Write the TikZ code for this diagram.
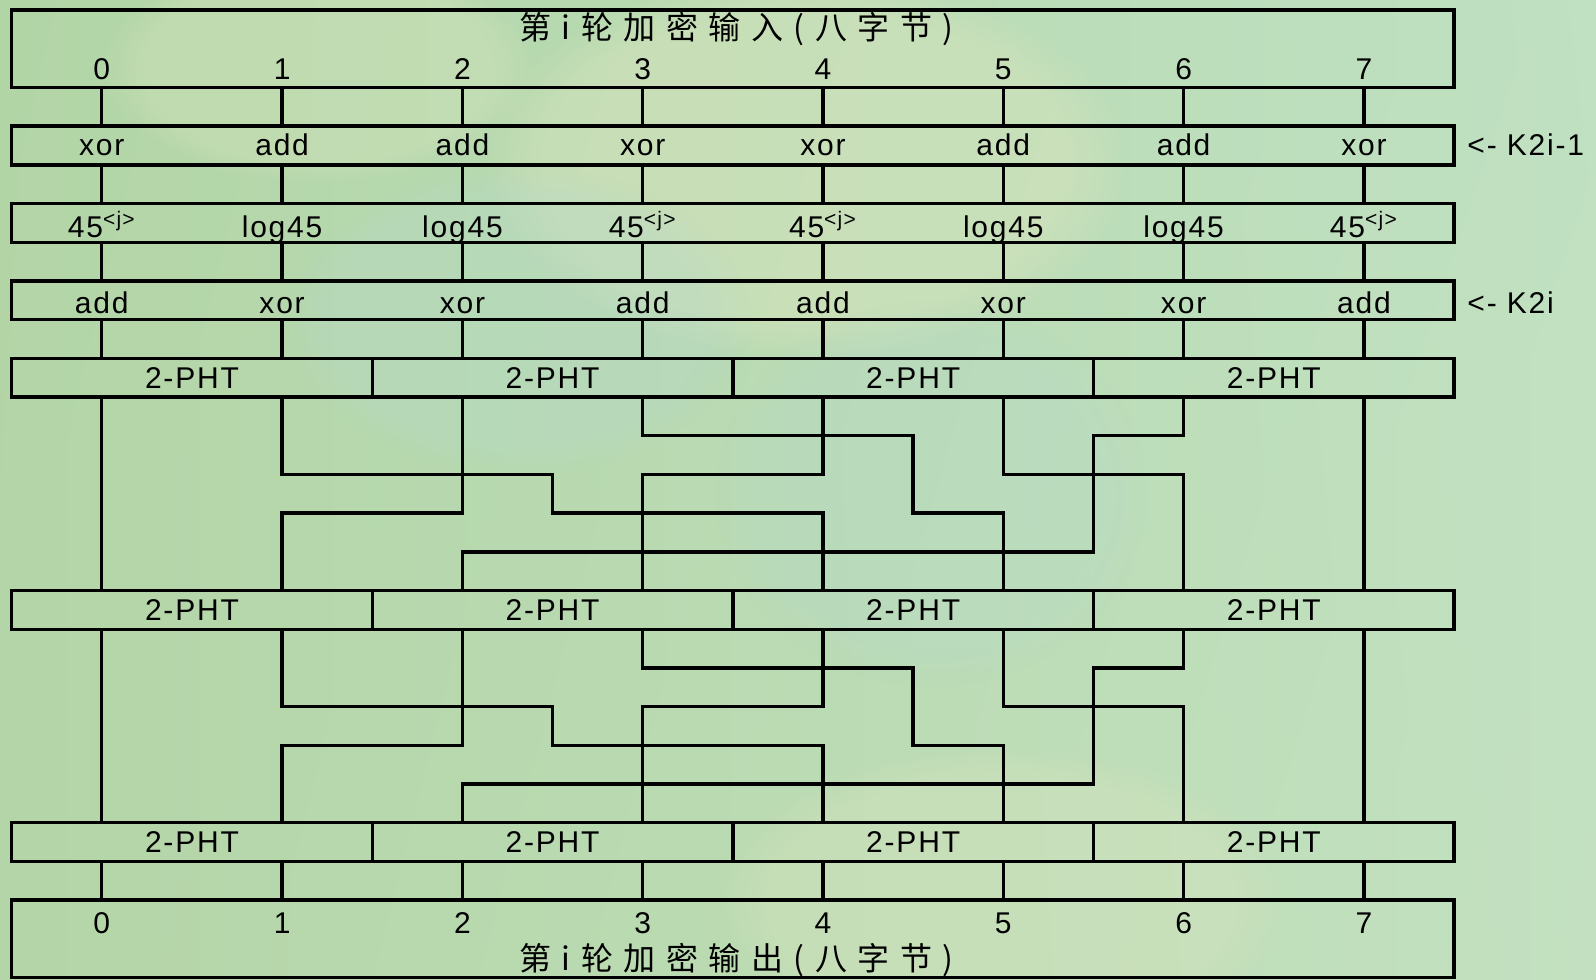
\documentclass[tikz,border=0pt]{standalone}
\usepackage{fontspec}
\setmainfont{Liberation Sans}[LetterSpace=6]
\newfontfamily\cjk{Noto Sans CJK SC}[LetterSpace=33]
\usepackage{xcolor}
\usepackage{tikz}
\usetikzlibrary{calc,fadings,shadings}
\definecolor{bgtl}{RGB}{178,213,166}
\definecolor{bgtr}{RGB}{192,225,194}
\definecolor{bgbl}{RGB}{180,213,167}
\definecolor{bgbr}{RGB}{195,225,192}
\definecolor{bgcream}{RGB}{218,229,190}
\definecolor{bgblue}{RGB}{182,217,206}
\tikzstyle{row} = [draw, line width=1.7pt, inner sep=0pt, outer sep=0pt, minimum width=721.2pt, minimum height=19.35pt]
\tikzstyle{bigrow} = [row, minimum height=38.7pt]
\tikzstyle{pht} = [row, minimum width=180.3pt, font=\fontsize{15pt}{18pt}\selectfont]
\tikzstyle{lbl} = [anchor=base, inner sep=0pt, font=\fontsize{15pt}{18pt}\selectfont]
\tikzstyle{wire} = [line width=1.7pt]
\newcommand{\expj}{45\textsuperscript{<j>}}

\begin{document}
\begin{tikzpicture}[x=90.15pt,y=-19.35pt]
	% Background:
	% one column is one unit across, one row is one unit down
	\useasboundingbox (-0.5646,-0.2584) rectangle (8.2873,25.039);
	\shade[upper left=bgtl, upper right=bgtr, lower left=bgbl, lower right=bgbr] (-0.5646,-0.2584) rectangle (8.2873,25.039);
	\fill[bgcream, opacity=.45, path fading=circle with fuzzy edge 20 percent] (3.9,4) ellipse (1.8 and 5);
	\fill[bgcream, opacity=.35, path fading=circle with fuzzy edge 20 percent] (1.2,1.5) ellipse (1.2 and 3);
	\fill[bgblue, opacity=.3, path fading=circle with fuzzy edge 20 percent] (2.3,8) ellipse (1.3 and 4);
	\fill[bgblue, opacity=.25, path fading=circle with fuzzy edge 20 percent] (4.6,12.5) ellipse (1.2 and 5);
	\fill[bgcream, opacity=.35, path fading=circle with fuzzy edge 20 percent] (5,23) ellipse (1.6 and 4);
	
	% Rows:
	\node[bigrow] (inp) at (3.5,1) {};
	\node[row] (rowk1) at (3.5,3.5) {};
	\node[row] (rowexp) at (3.5,5.5) {};
	\node[row] (rowk2) at (3.5,7.5) {};
	\foreach \l/\y in {1/9.5,2/15.5,3/21.5}
		\foreach \j in {0,...,3}
			\node[pht] (p\l\j) at (2*\j+0.5,\y) {2-PHT};
	\node[bigrow] (outp) at (3.5,24) {};
	
	% Columns:
	\foreach \i in {0,...,7}
		\coordinate (c\i) at (\i,0);
	
	% Labels:
	\node[lbl] (tin) at (3.52,0.77) {\fontsize{16pt}{19pt}\selectfont\cjk 第i轮加密输入(八字节)};
	\node[lbl] (tout) at (3.52,24.83) {\fontsize{16pt}{19pt}\selectfont\cjk 第i轮加密输出(八字节)};
	\foreach \i in {0,...,7}{%
		\node[lbl] (din\i) at (\i,1.79) {\i};
		\node[lbl] (dout\i) at (\i,23.85) {\i};
	}
	\foreach \t [count=\i from 0] in {xor,add,add,xor,xor,add,add,xor}
		\node[lbl] (kop\i) at (\i,3.77) {\t};
	\foreach \t [count=\i from 0] in {\expj,log45,log45,\expj,\expj,log45,log45,\expj}
		\node[lbl] (sb\i) at (\i,5.87) {\t};
	\foreach \t [count=\i from 0] in {add,xor,xor,add,add,xor,xor,add}
		\node[lbl] (kad\i) at (\i,7.83) {\t};
	\node[lbl, anchor=base west] (key1) at (7.572,3.77) {<- K2i-1};
	\node[lbl, anchor=base west] (key2) at (7.572,7.83) {<- K2i};
	
	% Straight connectors:
	\foreach \i in {0,...,7}{%
		\draw[wire] (c\i |- inp.south) -- (c\i |- rowk1.north);
		\draw[wire] (c\i |- rowk1.south) -- (c\i |- rowexp.north);
		\draw[wire] (c\i |- rowexp.south) -- (c\i |- rowk2.north);
		\draw[wire] (c\i |- rowk2.south) -- (c\i |- p10.north);
		\draw[wire] (c\i |- p30.south) -- (c\i |- outp.north);
	}
	
	% Shuffle between the 2-PHT layers:
	\foreach \a/\b in {1/2,2/3}{%
		\draw[wire] (c0 |- p\a0.south) -- (c0 |- p\b0.north);
		\draw[wire] (c1 |- p\a0.south) -- ++(0,2) -- ++(1.5,0) -- ++(0,1) -| (c4 |- p\b2.north);
		\draw[wire] (c2 |- p\a1.south) -- ++(0,3) -| (c1 |- p\b0.north);
		\draw[wire] (c3 |- p\a1.south) -- ++(0,1) -- ++(1.5,0) -- ++(0,2) -| (c5 |- p\b2.north);
		\draw[wire] (c4 |- p\a2.south) -- ++(0,2) -| (c3 |- p\b1.north);
		\draw[wire] (c5 |- p\a2.south) -- ++(0,2) -| (c6 |- p\b3.north);
		\draw[wire] (c6 |- p\a3.south) -- ++(0,1) -- ++(-0.5,0) -- ++(0,3) -| (c2 |- p\b1.north);
		\draw[wire] (c7 |- p\a3.south) -- (c7 |- p\b3.north);
	}
\end{tikzpicture}
\end{document}
